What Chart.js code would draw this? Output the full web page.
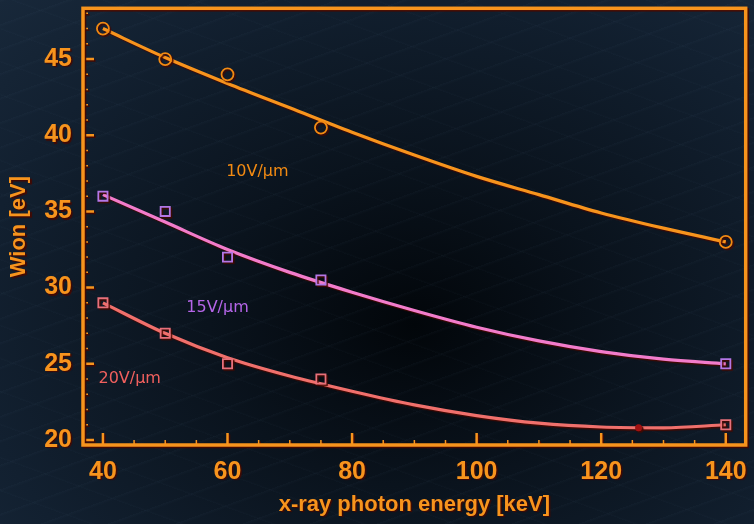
<!DOCTYPE html>
<html>
<head>
<meta charset="utf-8">
<script src="https://cdn.jsdelivr.net/npm/chart.js@4"></script>
<style>
  html, body { margin: 0; padding: 0; }
  body {
    width: 754px; height: 524px; overflow: hidden;
    background:
      repeating-linear-gradient(160deg, rgba(90,120,150,0.05) 0px, rgba(90,120,150,0) 3px, rgba(90,120,150,0) 23px),
      repeating-linear-gradient(20deg, rgba(90,120,150,0.04) 0px, rgba(90,120,150,0) 2px, rgba(90,120,150,0) 31px),
      radial-gradient(ellipse at 55% 62%, #02060a 0%, #0a131d 35%, #122030 75%, #18283a 100%);
  }
  #wrap { position: relative; width: 754px; height: 524px; }
</style>
</head>
<body>
<div id="wrap"><canvas id="chart" width="754" height="524"></canvas></div>
<script>
// measured points
const measE = [40, 50, 60, 75, 140];
const meas10 = [47, 45, 44, 40.5, 33];
const meas15 = [36, 35, 32, 30.5, 25];
const meas20 = [29, 27, 25, 24, 21];

// fitted curves
const fitE = [40, 50, 60, 70, 80, 90, 100, 110, 120, 130, 140];
const fit10 = [47.0, 45.1, 43.4, 41.8, 40.2, 38.7, 37.3, 36.1, 34.9, 33.9, 33.0];
const fit15 = [36.1, 34.3, 32.5, 31.0, 29.7, 28.5, 27.4, 26.5, 25.8, 25.3, 25.0];
const fit20 = [29.0, 27.0, 25.4, 24.2, 23.2, 22.3, 21.6, 21.1, 20.85, 20.8, 21.0];

// minimum of the 20V/um fit
const minE = [126];
const min20 = [20.8];

const xTicks = [40, 60, 80, 100, 120, 140];
const yTicks = [20, 25, 30, 35, 40, 45];

const seriesLabels = ['10V/μm', '15V/μm', '20V/μm'];

const ORANGE = '#f7941d';
const SHADOW = 'rgba(70,8,0,0.95)';

const pts = (xs, ys) => xs.map((x, i) => ({ x: x, y: ys[i] }));

// where the three series names sit (data coords) and their colours
const labelSpots = [
  { x: 64.8, y: 37.6, color: '#f28a12' },
  { x: 58.4, y: 28.7, color: '#b565e8' },
  { x: 44.3, y: 24.0, color: '#f0605e' }
];

const shadowOn = {
  id: 'shadowOn',
  beforeDraw(chart) {
    const ctx = chart.ctx;
    ctx.save();
    ctx.shadowColor = SHADOW;
    ctx.shadowOffsetX = 1.5;
    ctx.shadowOffsetY = 1.5;
    ctx.shadowBlur = 1;
  },
  afterDatasetsDraw(chart) {
    chart.ctx.restore();
  }
};

const frame = {
  id: 'frame',
  afterDraw(chart) {
    const ctx = chart.ctx;
    const a = chart.chartArea;
    const xs = chart.scales.x, ys = chart.scales.y;
    ctx.save();
    ctx.shadowColor = SHADOW;
    ctx.shadowOffsetX = 1.5;
    ctx.shadowOffsetY = 1.5;
    ctx.strokeStyle = ORANGE;

    // minor ticks
    ctx.lineWidth = 1.5;
    ctx.beginPath();
    for (let v = 21; v <= 48; v++) {
      if (v % 5 === 0) continue;
      const y = ys.getPixelForValue(v);
      ctx.moveTo(a.left, y); ctx.lineTo(a.left + 5, y);
    }
    for (let v = 45; v <= 140; v += 5) {
      if (v % 20 === 0) continue;
      const x = xs.getPixelForValue(v);
      ctx.moveTo(x, a.bottom); ctx.lineTo(x, a.bottom - 5);
    }
    ctx.stroke();

    // major ticks
    ctx.lineWidth = 2.5;
    ctx.beginPath();
    yTicks.forEach(v => {
      const y = ys.getPixelForValue(v);
      ctx.moveTo(a.left, y); ctx.lineTo(a.left + 11, y);
    });
    xTicks.forEach(v => {
      const x = xs.getPixelForValue(v);
      ctx.moveTo(x, a.bottom); ctx.lineTo(x, a.bottom - 12);
    });
    ctx.stroke();

    // box
    ctx.lineWidth = 3.5;
    ctx.strokeRect(a.left, a.top, a.right - a.left, a.bottom - a.top);
    ctx.restore();

    // series names
    ctx.save();
    ctx.font = '16px "DejaVu Sans"';
    ctx.textAlign = 'center';
    ctx.textBaseline = 'middle';
    labelSpots.forEach((s, i) => {
      ctx.fillStyle = s.color;
      ctx.fillText(seriesLabels[i], xs.getPixelForValue(s.x), ys.getPixelForValue(s.y));
    });
    ctx.restore();
  }
};

const markers = (data, style, color) => ({
  data: data,
  showLine: false,
  pointStyle: style,
  pointRadius: style === 'circle' ? 6 : 6.5,
  pointBorderWidth: 1.8,
  pointBorderColor: color,
  pointBackgroundColor: 'rgba(0,0,0,0)',
  order: 0
});

const curve = (data, color) => ({
  data: data,
  showLine: true,
  borderColor: color,
  borderWidth: 3.2,
  pointRadius: 0,
  cubicInterpolationMode: 'monotone',
  order: 1
});

new Chart(document.getElementById('chart'), {
  type: 'scatter',
  data: {
    datasets: [
      markers(pts(measE, meas10), 'circle', '#f28a12'),
      markers(pts(measE, meas15), 'rect', '#b477e6'),
      markers(pts(measE, meas20), 'rect', '#e8707a'),
      {
        data: pts(minE, min20),
        pointRadius: 3.5,
        pointBackgroundColor: '#a01212',
        pointBorderWidth: 0,
        order: 0
      },
      curve(pts(fitE, fit10), '#f7941d'),
      curve(pts(fitE, fit15), '#f27ccb'),
      curve(pts(fitE, fit20), '#f0706c')
    ]
  },
  options: {
    responsive: false,
    animation: false,
    layout: { padding: { top: 6, right: 6, left: 0, bottom: 0 } },
    plugins: { legend: { display: false }, tooltip: { enabled: false } },
    scales: {
      x: {
        type: 'linear',
        min: 36.8,
        max: 143.2,
        afterBuildTicks: s => { s.ticks = xTicks.map(v => ({ value: v })); },
        afterFit: s => { s.height = 79; s.paddingLeft = 0; s.paddingRight = 0; },
        grid: { display: false, drawTicks: false },
        border: { display: false },
        ticks: {
          color: ORANGE,
          padding: 12,
          font: { family: '"Liberation Sans", Arial, sans-serif', size: 25, weight: 'bold' }
        },
        title: {
          display: true,
          text: 'x-ray photon energy [keV]',
          color: ORANGE,
          padding: { top: 0, bottom: 6 },
          font: { family: '"Liberation Sans", Arial, sans-serif', size: 22, weight: 'bold' }
        }
      },
      y: {
        type: 'linear',
        min: 19.67,
        max: 48.33,
        afterBuildTicks: s => { s.ticks = yTicks.map(v => ({ value: v })); },
        afterFit: s => { s.width = 83; s.paddingTop = 0; s.paddingBottom = 0; },
        grid: { display: false, drawTicks: false },
        border: { display: false },
        ticks: {
          color: ORANGE,
          padding: 11,
          font: { family: '"Liberation Sans", Arial, sans-serif', size: 25, weight: 'bold' }
        },
        title: {
          display: true,
          text: 'Wion [eV]',
          color: ORANGE,
          padding: { top: 6, bottom: 0 },
          font: { family: '"Liberation Sans", Arial, sans-serif', size: 22, weight: 'bold' }
        }
      }
    }
  },
  plugins: [shadowOn, frame]
});
</script>
</body>
</html>
